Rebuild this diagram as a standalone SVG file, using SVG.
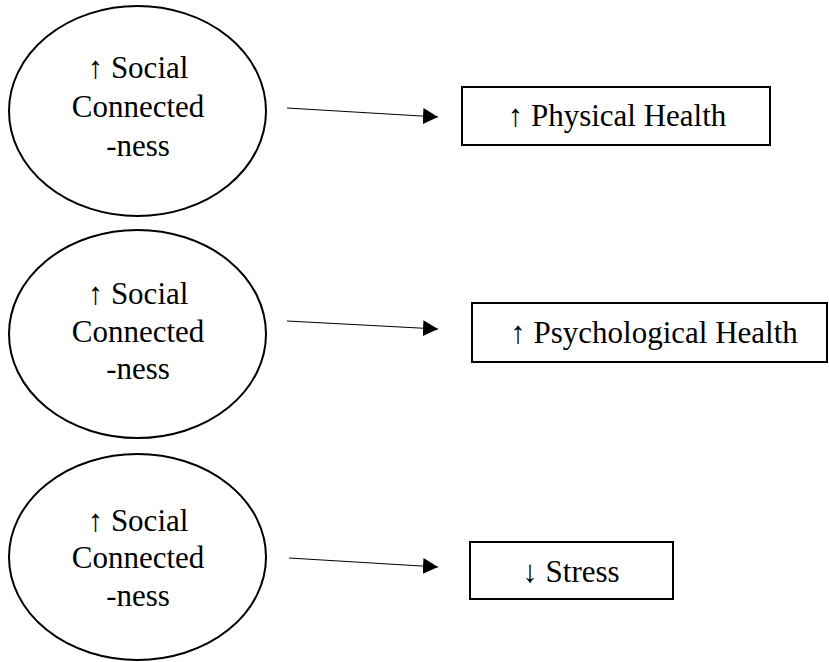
<svg xmlns="http://www.w3.org/2000/svg" width="829" height="662" viewBox="0 0 829 662">
<style>
.node ellipse,.node rect{fill:#fff;stroke:#000;stroke-width:2}
text{font-family:"Liberation Serif","Times New Roman",serif;font-size:31px;fill:#000;text-anchor:middle}
.conn line{stroke:#000;stroke-width:1.2}
</style>
<defs>
<marker id="ah" markerWidth="15" markerHeight="16" refX="15" refY="8" orient="auto" markerUnits="userSpaceOnUse">
<path d="M0,0 L15,8 L0,16 Z" fill="#000"/>
</marker>
</defs>
<rect width="829" height="662" fill="#fff"/>
<g id="social1" class="node">
<ellipse cx="137.5" cy="111" rx="128.5" ry="105"/>
<text x="138" y="78">↑ Social</text>
<text x="138" y="117">Connected</text>
<text x="138" y="156">-ness</text>
</g>
<g id="social2" class="node">
<ellipse cx="137.5" cy="334" rx="128.5" ry="104"/>
<text x="138" y="304">↑ Social</text>
<text x="138" y="342">Connected</text>
<text x="138" y="379">-ness</text>
</g>
<g id="social3" class="node">
<ellipse cx="137.5" cy="557" rx="128.5" ry="103"/>
<text x="138" y="531">↑ Social</text>
<text x="138" y="568">Connected</text>
<text x="138" y="606">-ness</text>
</g>
<g id="physical" class="node">
<rect x="462" y="87" width="308" height="58"/>
<text x="617" y="126">↑ Physical Health</text>
</g>
<g id="psychological" class="node">
<rect x="472" y="303" width="355" height="59"/>
<text x="654" y="343">↑ Psychological Health</text>
</g>
<g id="stress" class="node">
<rect x="470" y="542" width="203" height="57"/>
<text x="571" y="582">↓ Stress</text>
</g>
<g id="connectors" class="conn">
<line x1="287" y1="108" x2="438" y2="117" marker-end="url(#ah)"/>
<line x1="287" y1="321" x2="438" y2="329" marker-end="url(#ah)"/>
<line x1="289" y1="558" x2="438" y2="567" marker-end="url(#ah)"/>
</g>
</svg>
